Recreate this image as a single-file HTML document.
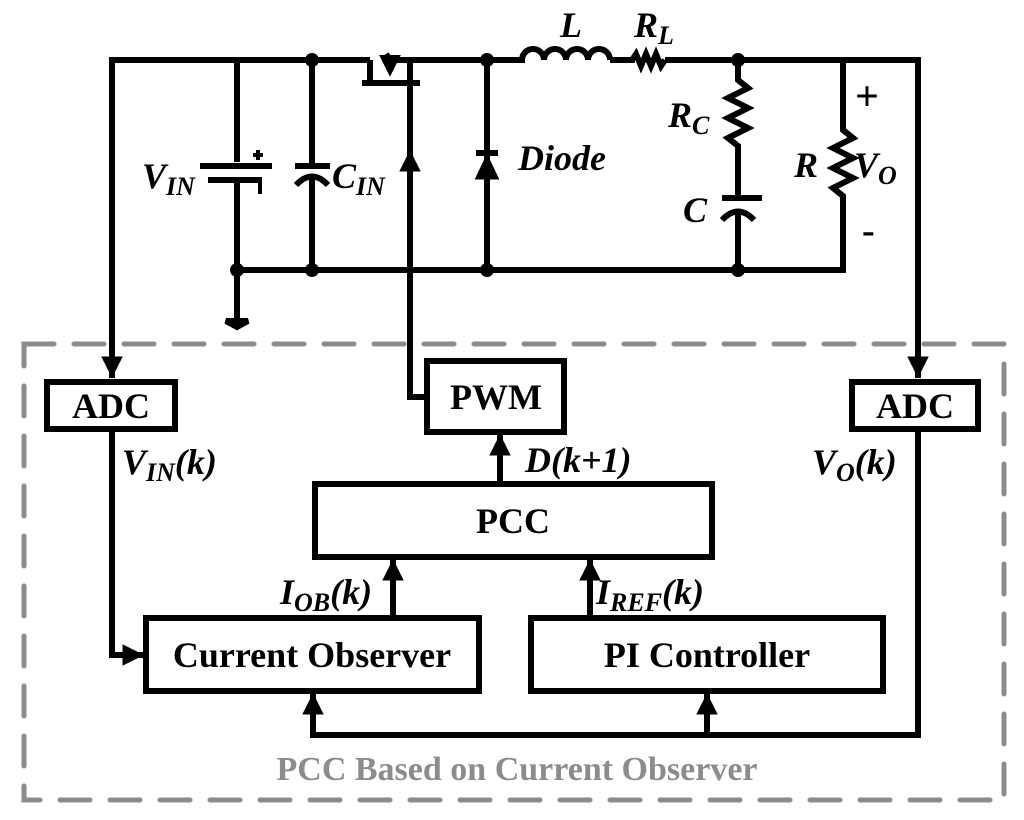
<!DOCTYPE html>
<html><head><meta charset="utf-8"><style>
html,body{margin:0;padding:0;background:#fff;}
svg{display:block;}
text{font-family:"Liberation Serif",serif;font-weight:bold;}
.i{font-style:italic;}
</style></head><body>
<svg width="1024" height="820" viewBox="0 0 1024 820" xmlns="http://www.w3.org/2000/svg">
<defs>
<marker id="a" viewBox="0 0 10 10" refX="10" refY="5" markerWidth="3.6" markerHeight="3.6" orient="auto" markerUnits="strokeWidth"><path d="M0,0 L10,5 L0,10 z" fill="#000"/></marker>
</defs>
<rect x="24" y="344" width="980" height="456" fill="none" stroke="#8c8c8c" stroke-width="5" stroke-dasharray="30,20" stroke-linecap="round"/>
<g stroke="#000" stroke-width="6" fill="none" stroke-linejoin="miter">
<path d="M112,376 V60 H370"/>
<path d="M390,60 H525"/>
<path d="M610,60 H635 M665,60 H918 V378"/>
<path d="M918,429 V735 H313 V700"/>
<path d="M522,60 a11,11 0 0 1 22,0 a11,11 0 0 1 22,0 a11,11 0 0 1 22,0 a11,11 0 0 1 22,0"/>
<path d="M632,60 l4,-6 l5,12 l5,-12 l5,12 l5,-12 l5,12 l4,-6"/>
<path d="M237,60 V162 M200,166 H272 M208,180 H262 M237,180 V270 V320"/>
<path d="M258,150 v10 M253,155 h10 M260,182 v12" stroke-width="4"/>
<path d="M226,321 h22 l-11,6 z" fill="#000"/>
<path d="M312,60 V164 M295,166 H330 M296,185 Q312,168 328,185 M312,175 V270"/>
<path d="M370,60 V83 H410 M362,83 H420 M390,60 l-4,-6 M390,60 h6"/>
<path d="M410,60 V397 H427"/>
<path d="M384,58 l6,12 l6,-12 z" fill="#000"/>
<path d="M487,60 V270 M476,153 H498"/>
<path d="M477,178 L487,157 L497,178 Z" fill="#000" stroke-width="3"/>
<path d="M237,270 H843 V205"/>
<path d="M738,60 V80 l10,8 l-20,10 l20,10 l-20,10 l20,10 l-20,10 l10,8 V198 M722,198 H762 M722,220 Q738,203 754,220 M738,210 V270"/>
<path d="M843,60 V130 l10,8 l-20,10 l20,10 l-20,10 l20,10 l-20,10 l10,8 V205"/>
<path d="M410,250 V150" marker-end="url(#a)"/>
<path d="M112,330 V378" marker-end="url(#a)"/>
<path d="M918,330 V378" marker-end="url(#a)"/>
<rect x="47" y="382" width="128" height="47" fill="#fff"/>
<rect x="427" y="361" width="137" height="71" fill="#fff"/>
<rect x="852" y="382" width="126" height="47" fill="#fff"/>
<rect x="315" y="484" width="397" height="73"/>
<rect x="146" y="618" width="333" height="73"/>
<rect x="531" y="618" width="352" height="73"/>
<path d="M112,429 V655 H144" marker-end="url(#a)"/>
<path d="M500,484 V434" marker-end="url(#a)"/>
<path d="M393,618 V559" marker-end="url(#a)"/>
<path d="M590,618 V559" marker-end="url(#a)"/>
<path d="M313,735 V693" marker-end="url(#a)"/>
<path d="M707,735 V693" marker-end="url(#a)"/>
</g>
<g fill="#000">
<circle cx="312" cy="60" r="7"/><circle cx="487" cy="60" r="7"/><circle cx="738" cy="60" r="7"/>
<circle cx="237" cy="270" r="7"/><circle cx="312" cy="270" r="7"/><circle cx="487" cy="270" r="7"/><circle cx="738" cy="270" r="7"/>
</g>
<g font-size="36" fill="#000">
<text class="i" x="142" y="188">V<tspan font-size="26" dy="7">IN</tspan></text>
<text class="i" x="332" y="188">C<tspan font-size="26" dy="7">IN</tspan></text>
<text class="i" x="518" y="170">Diode</text>
<text class="i" x="560" y="37">L</text>
<text class="i" x="634" y="37">R<tspan font-size="26" dy="7">L</tspan></text>
<text class="i" x="668" y="127">R<tspan font-size="26" dy="7">C</tspan></text>
<text class="i" x="683" y="222">C</text>
<text class="i" x="794" y="177">R</text>
<text class="i" x="854" y="177">V<tspan font-size="26" dy="7">O</tspan></text>
<text x="855" y="110" font-size="42" font-weight="normal">+</text>
<text x="862" y="243" font-size="38">-</text>
<text x="111" y="418" text-anchor="middle" font-size="36">ADC</text>
<text x="915" y="418" text-anchor="middle" font-size="36">ADC</text>
<text x="496" y="409" text-anchor="middle" font-size="36">PWM</text>
<text x="513" y="533" text-anchor="middle" font-size="36">PCC</text>
<text x="312" y="667" text-anchor="middle" font-size="36">Current Observer</text>
<text x="707" y="667" text-anchor="middle" font-size="36">PI Controller</text>
<text class="i" x="122" y="474">V<tspan font-size="26" dy="7">IN</tspan><tspan dy="-7">(k)</tspan></text>
<text class="i" x="525" y="472">D(k+1)</text>
<text class="i" x="812" y="474">V<tspan font-size="26" dy="7">O</tspan><tspan dy="-7">(k)</tspan></text>
<text class="i" x="280" y="604">I<tspan font-size="26" dy="7">OB</tspan><tspan dy="-7">(k)</tspan></text>
<text class="i" x="596" y="604">I<tspan font-size="26" dy="7">REF</tspan><tspan dy="-7">(k)</tspan></text>
<text x="517" y="780" text-anchor="middle" font-size="34" fill="#8c8c8c">PCC Based on Current Observer</text>
</g>
</svg>
</body></html>
